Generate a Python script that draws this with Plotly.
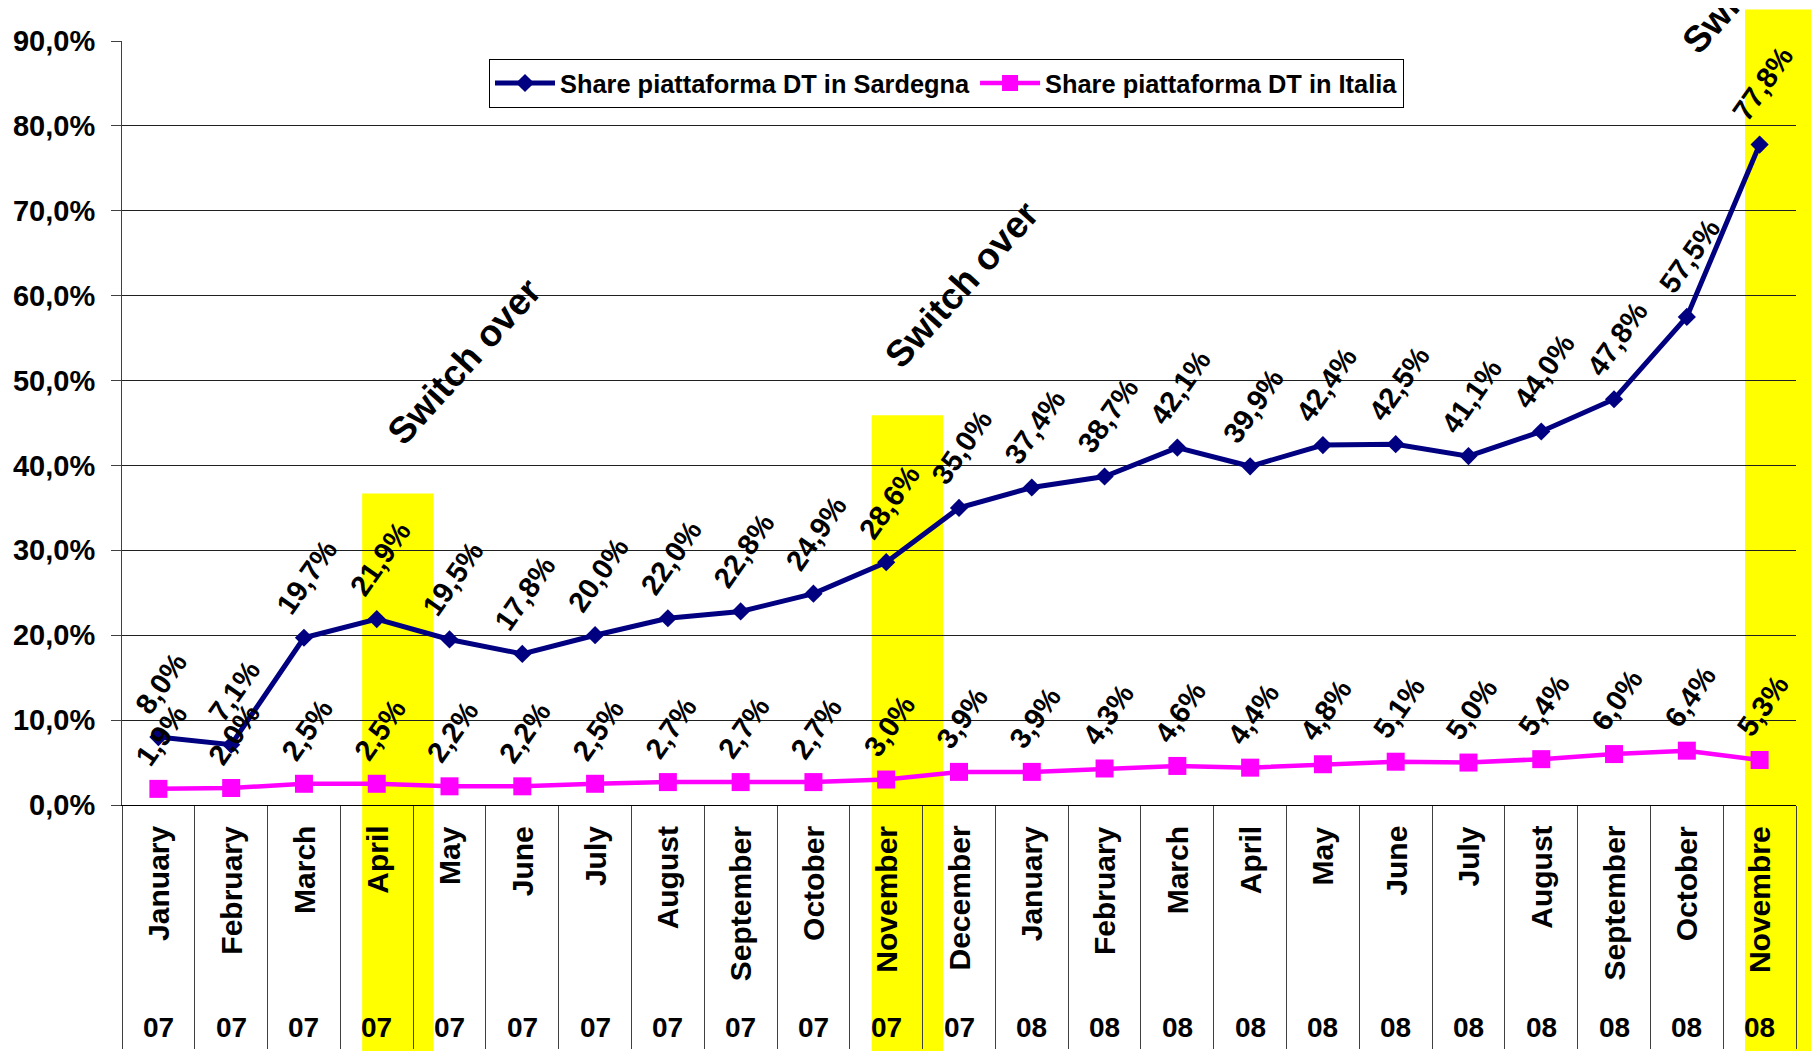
import plotly.graph_objects as go

# ---------------- data ----------------
months = ["January", "February", "March", "April", "May", "June", "July", "August",
          "September", "October", "November", "December",
          "January", "February", "March", "April", "May", "June", "July", "August",
          "September", "October", "Novembre"]
years = ["07"] * 12 + ["08"] * 11
sardegna = [8.0, 7.1, 19.7, 21.9, 19.5, 17.8, 20.0, 22.0, 22.8, 24.9, 28.6, 35.0,
            37.4, 38.7, 42.1, 39.9, 42.4, 42.5, 41.1, 44.0, 47.8, 57.5, 77.8]
italia = [1.9, 2.0, 2.5, 2.5, 2.2, 2.2, 2.5, 2.7, 2.7, 2.7, 3.0, 3.9,
          3.9, 4.3, 4.6, 4.4, 4.8, 5.1, 5.0, 5.4, 6.0, 6.4, 5.3]
series_names = ["Share piattaforma DT in Sardegna", "Share piattaforma DT in Italia"]
switch_months = [3, 10, 22]          # index of the switch-over months
switch_text = "Switch over"

# ---------------- layout constants ----------------
# (the page adds an 8px body margin, so the figure is 8px smaller than the window)
W, H = 1811, 1043
ML, MR, MT, MB = 114, 23, 33, 246
Y_MAX = 90
band_top = [36.7, 45.9, 93.7]          # top of highlight bands (value units)
band_off = (-0.2, 0.78)               # band extent relative to category centre
switch_pos = [(4.2, 52.3), (11.04, 61.3), (21.99, 98.3)]

FONT = "Liberation Sans, Arial, sans-serif"

cats = [f"{m} {y}" for m, y in zip(months, years)]
n = len(cats)
plot_h = H - MT - MB
plot_w = W - ML - MR


def fmt(v):
    return f"{v:.1f}%".replace(".", ",")


def xpaper(pos):
    # category axis range is [-0.5, n-0.5]
    return (pos + 0.5) / n


fig = go.Figure()

fig.add_trace(go.Scatter(
    x=cats, y=sardegna, name=series_names[0], mode="lines+markers",
    line=dict(color="#000080", width=5),
    marker=dict(symbol="diamond", size=14, color="#000080"),
))
fig.add_trace(go.Scatter(
    x=cats, y=italia, name=series_names[1], mode="lines+markers",
    line=dict(color="#FF00FF", width=4.5),
    marker=dict(symbol="square", size=18, color="#FF00FF"),
))

shapes = []
for idx, top in zip(switch_months, band_top):
    shapes.append(dict(
        type="rect", layer="below", xref="paper", yref="paper",
        x0=xpaper(idx + band_off[0]), x1=xpaper(idx + band_off[1]),
        y0=-MB / plot_h - 0.01, y1=top / Y_MAX,
        fillcolor="#FFFF00", line=dict(width=0),
    ))

ann = []
for series in (sardegna, italia):
    for c, v in zip(cats, series):
        ann.append(dict(
            x=c, y=v, xref="x", yref="y", text=fmt(v), showarrow=False,
            textangle=-55, xanchor="center", yanchor="bottom", yshift=15, xshift=3,
            font=dict(family=FONT, size=29, color="black", weight="bold"),
        ))

for c, m, y in zip(cats, months, years):
    ann.append(dict(
        x=c, y=0, xref="x", yref="paper", text=m, showarrow=False,
        textangle=-90, xanchor="center", yanchor="top", yshift=-19,
        font=dict(family=FONT, size=30, color="black", weight="bold"),
    ))
    ann.append(dict(
        x=c, y=0, xref="x", yref="paper", text=y, showarrow=False,
        xanchor="center", yanchor="middle", yshift=-222,
        font=dict(family=FONT, size=28, color="black", weight="bold"),
    ))

for (px, py) in switch_pos:
    ann.append(dict(
        x=px, y=py / Y_MAX, xref="x", yref="paper", text=switch_text, showarrow=False,
        textangle=-48, xanchor="center", yanchor="middle",
        font=dict(family=FONT, size=37, color="black", weight="bold"),
    ))

fig.update_layout(
    width=W, height=H,
    margin=dict(l=ML, r=MR, t=MT, b=MB, autoexpand=False),
    paper_bgcolor="white", plot_bgcolor="white",
    separators=",.",
    showlegend=True,
    legend=dict(
        orientation="h", x=(481 - ML) / plot_w, y=1 - 18 / plot_h,
        xanchor="left", yanchor="top",
        bgcolor="white", bordercolor="black", borderwidth=1,
        font=dict(family=FONT, size=25.4, color="black", weight="bold"),
        itemwidth=60,
    ),
    shapes=shapes,
    annotations=ann,
)

fig.update_xaxes(
    type="category", categoryorder="array", categoryarray=cats,
    range=[-0.5, n - 0.5], automargin=False,
    showgrid=False, zeroline=False,
    showline=True, linecolor="black", linewidth=1,
    ticks="outside", tickson="boundaries", ticklen=MB - 3, tickcolor="#404040", tickwidth=1,
    showticklabels=False,
)
fig.update_yaxes(
    range=[0, Y_MAX], dtick=10, tick0=0, automargin=False,
    tickformat=".1f", ticksuffix="%",
    showgrid=True, gridcolor="#202020", gridwidth=1,
    zeroline=False,
    showline=True, linecolor="#404040", linewidth=1,
    ticks="outside", ticklen=10, tickcolor="#404040",
    ticklabelstandoff=10,
    tickfont=dict(family=FONT, size=29, color="black", weight="bold"),
)

fig.write_html("out.html")
